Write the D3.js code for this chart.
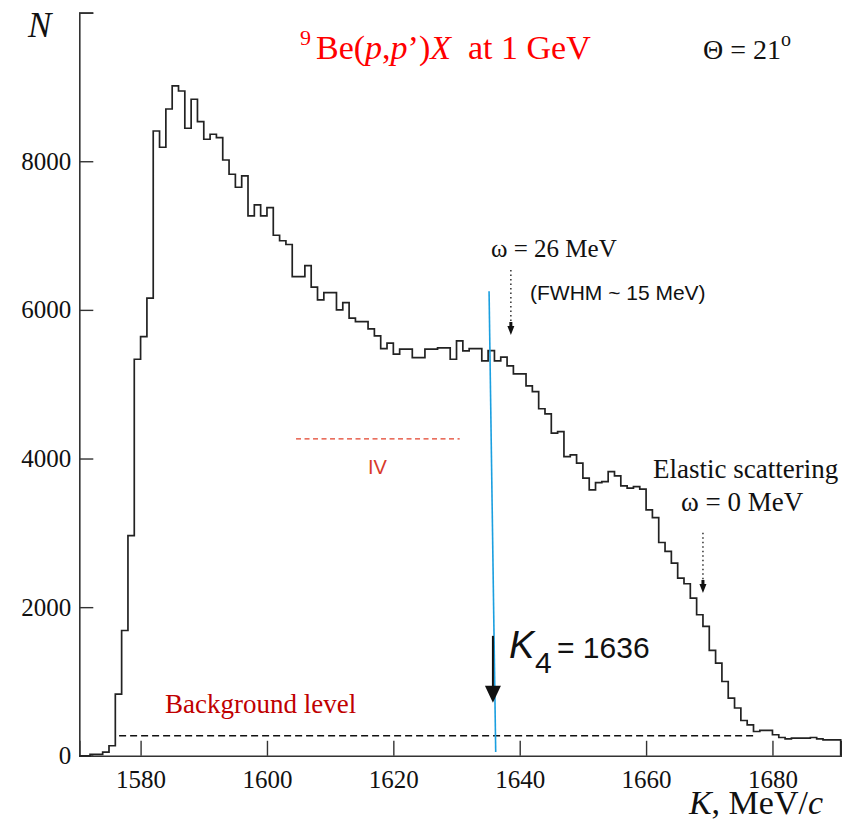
<!DOCTYPE html>
<html>
<head>
<meta charset="utf-8">
<script src="https://cdn.jsdelivr.net/npm/d3@7/dist/d3.min.js"></script>
<style>
  html, body { margin: 0; padding: 0; background: #fff; }
  svg { display: block; }
</style>
</head>
<body>
<svg id="chart" width="842" height="825"></svg>
<script>
// ---------------- DATA ----------------
const binEdges = [1570,1571,1572,1573,1574,1575,1576,1577,1578,1579,
  1580,1581,1582,1583,1584,1585,1586,1587,1588,1589,
  1590,1591,1592,1593,1594,1595,1596,1597,1598,1599,
  1600,1601,1602,1603,1604,1605,1606,1607,1608,1609,
  1610,1611,1612,1613,1614,1615,1616,1617,1618,1619,
  1620,1621,1622,1623,1624,1625,1626,1627,1628,1629,
  1630,1631,1632,1633,1634,1635,1636,1637,1638,1639,
  1640,1641,1642,1643,1644,1645,1646,1647,1648,1649,
  1650,1651,1652,1653,1654,1655,1656,1657,1658,1659,
  1660,1661,1662,1663,1664,1665,1666,1667,1668,1669,
  1670,1671,1672,1673,1674,1675,1676,1677,1678,1679,
  1680,1681,1682,1683,1684,1685,1686,1687,1688,1689,1690];
const counts = [0,0,20,20,50,135,830,1686,2963,5336,
  5640,6157,8407,8188,8703,9013,8945,8444,8834,8532,
  8296,8363,8317,8017,7825,7650,7802,7264,7412,7264,
  7376,7004,6930,6880,6448,6448,6595,6305,6134,6232,
  6232,5999,6098,5888,5842,5842,5744,5650,5479,5552,
  5404,5471,5471,5358,5358,5471,5471,5488,5488,5336,
  5582,5448,5479,5479,5313,5452,5313,5363,5246,5139,
  5139,4977,4900,4670,4600,4341,4363,4026,4049,3937,
  3736,3578,3676,3690,3824,3766,3632,3601,3623,3588,
  3309,3205,2870,2750,2593,2392,2315,2122,1898,1741,
  1418,1248,1000,776,643,475,417,327,341,341,
  283,246,229,238,238,238,246,229,215,215,215];

const xDomain = [1570.3, 1690.8];
const yDomain = [0, 10000];
const xTicksMajor = [1580,1600,1620,1640,1660,1680];
const xTicksMinor = [1575,1585,1590,1595,1605,1610,1615,1625,1630,1635,1645,1650,1655,1665,1670,1675,1685,1690];
const yTicksMajor = [0,2000,4000,6000,8000,10000];
const yTickLabels = ["0","2000","4000","6000","8000",""];
const yTicksMinor = [500,1000,1500,2500,3000,3500,4500,5000,5500,6500,7000,7500,8500,9000,9500];

// annotations (data units)
const k4Line = [[1635.15, 6250],[1636.2, 50]];
const k4Arrow = [1635.76, 1614, 713];     // x, y from, y tip
const bgLevel = [1576.6, 1677.5, 270];    // x1, x2, y
const ivLine = [1604.6, 1630.5, 4264];    // x1, x2, y
const omega26Arrow = [1638.6, 6538, 5663];
const elasticArrow = [1669.0, 3000, 2189];

// ---------------- DRAW ----------------
const svg = d3.select("#chart");
const serif = "'Liberation Serif','Times New Roman',Times,serif";
const sans = "'Liberation Sans',Arial,Helvetica,sans-serif";

const x = d3.scaleLinear().domain(xDomain).range([79.3, 840.7]);
const y = d3.scaleLinear().domain(yDomain).range([755.8, 12.6]);

// axes
const gx = svg.append("g").attr("transform", `translate(0,${y(0)})`);
gx.call(d3.axisBottom(x).tickValues(xTicksMinor).tickSize(-8).tickFormat(""));
gx.call(d3.axisBottom(x).tickValues(xTicksMajor).tickSize(-15).tickPadding(14).tickFormat(d3.format("d")));
gx.selectAll("path.domain").attr("stroke", "#333").attr("stroke-width", 1.6);
gx.selectAll(".tick line").attr("stroke", "#333").attr("stroke-width", 1.4);
gx.selectAll(".tick text").attr("font-family", serif).attr("font-size", 25).attr("fill", "#111");

const gy = svg.append("g").attr("transform", `translate(${x(xDomain[0])},0)`);
gy.call(d3.axisLeft(y).tickValues(yTicksMinor).tickSize(-7).tickFormat(""));
gy.call(d3.axisLeft(y).tickValues(yTicksMajor).tickSize(-14).tickPadding(8)
  .tickFormat((d, i) => yTickLabels[i]));
gy.selectAll("path.domain").attr("stroke", "#333").attr("stroke-width", 1.6);
gy.selectAll(".tick line").attr("stroke", "#333").attr("stroke-width", 1.4);
gy.selectAll(".tick text").attr("font-family", serif).attr("font-size", 25).attr("fill", "#111");

// histogram
const pts = binEdges.map((e, i) => [Math.max(xDomain[0], e), counts[i]]);
pts.push([xDomain[1], counts[counts.length - 1]]);
pts.push([xDomain[1], 0]);
const line = d3.line().x(d => x(d[0])).y(d => y(d[1])).curve(d3.curveStepAfter);
svg.append("path").attr("d", line(pts)).attr("fill", "none")
  .attr("stroke", "#222").attr("stroke-width", 1.7).attr("stroke-linejoin", "miter");

// background level
svg.append("line")
  .attr("x1", x(bgLevel[0])).attr("x2", x(bgLevel[1]))
  .attr("y1", y(bgLevel[2])).attr("y2", y(bgLevel[2]))
  .attr("stroke", "#111").attr("stroke-width", 1.5).attr("stroke-dasharray", "7,4");
svg.append("text").attr("x", 165).attr("y", 713)
  .attr("font-family", serif).attr("font-size", 27).attr("fill", "#c00000")
  .text("Background level");

// IV line
svg.append("line")
  .attr("x1", x(ivLine[0])).attr("x2", x(ivLine[1]))
  .attr("y1", y(ivLine[2])).attr("y2", y(ivLine[2]))
  .attr("stroke", "#e2402a").attr("stroke-width", 1.3).attr("stroke-dasharray", "5,3.5");
svg.append("text").attr("x", 368).attr("y", 474)
  .attr("font-family", sans).attr("font-size", 20).attr("fill", "#d83a2a")
  .text("IV");

// K4 blue line
svg.append("line")
  .attr("x1", x(k4Line[0][0])).attr("y1", y(k4Line[0][1]))
  .attr("x2", x(k4Line[1][0])).attr("y2", y(k4Line[1][1]))
  .attr("stroke", "#1a9fe0").attr("stroke-width", 1.6);

// K4 black arrow
{
  const ax = x(k4Arrow[0]), ay1 = y(k4Arrow[1]), tip = y(k4Arrow[2]);
  svg.append("line").attr("x1", ax).attr("x2", ax).attr("y1", ay1).attr("y2", tip - 14)
    .attr("stroke", "#111").attr("stroke-width", 2);
  svg.append("path")
    .attr("d", `M${ax},${tip} L${ax - 8},${tip - 17} L${ax + 8},${tip - 17} Z`)
    .attr("fill", "#111");
}
{
  const t = svg.append("text").attr("font-family", sans).attr("fill", "#111");
  t.append("tspan").attr("x", 509).attr("y", 658).attr("font-size", 38).attr("font-style", "italic").text("K");
  t.append("tspan").attr("x", 535).attr("y", 673).attr("font-size", 30).text("4");
  t.append("tspan").attr("x", 557).attr("y", 658).attr("font-size", 30).text("= 1636");
}

// dotted arrows
function dottedArrow(a) {
  const ax = x(a[0]), y1 = y(a[1]), tip = y(a[2]);
  svg.append("line").attr("x1", ax).attr("x2", ax).attr("y1", y1).attr("y2", tip - 10)
    .attr("stroke", "#222").attr("stroke-width", 1.4).attr("stroke-dasharray", "1.5,3");
  svg.append("path")
    .attr("d", `M${ax},${tip} L${ax - 3.5},${tip - 9} L${ax - 1.5},${tip - 9} L${ax - 1.5},${tip - 13} L${ax + 1.5},${tip - 13} L${ax + 1.5},${tip - 9} L${ax + 3.5},${tip - 9} Z`)
    .attr("fill", "#111");
}
dottedArrow(omega26Arrow);
dottedArrow(elasticArrow);

// omega = 26 MeV
svg.append("text").attr("x", 491).attr("y", 257)
  .attr("font-family", serif).attr("font-size", 25).attr("fill", "#111")
  .text("\u03c9 = 26 MeV");
svg.append("text").attr("x", 530).attr("y", 300)
  .attr("font-family", sans).attr("font-size", 21).attr("fill", "#111")
  .text("(FWHM ~ 15 MeV)");

// elastic
svg.append("text").attr("x", 653).attr("y", 478)
  .attr("font-family", serif).attr("font-size", 27).attr("fill", "#111")
  .text("Elastic scattering");
svg.append("text").attr("x", 681).attr("y", 511)
  .attr("font-family", serif).attr("font-size", 27).attr("fill", "#111")
  .text("\u03c9 = 0 MeV");

// title
{
  const t = svg.append("text").attr("font-family", serif).attr("fill", "#ff0000").attr("font-size", 34);
  t.append("tspan").attr("x", 300).attr("y", 45).attr("font-size", 22).text("9");
  t.append("tspan").attr("x", 316).attr("y", 59).text("Be(");
  t.append("tspan").attr("font-style", "italic").text("p");
  t.append("tspan").text(",");
  t.append("tspan").attr("font-style", "italic").text("p");
  t.append("tspan").text("\u2019)");
  t.append("tspan").attr("font-style", "italic").text("X");
  t.append("tspan").text("\u00a0 at 1 GeV");
}
{
  const t = svg.append("text").attr("font-family", serif).attr("fill", "#111").attr("font-size", 28);
  t.append("tspan").attr("x", 703).attr("y", 59).text("\u0398 = 21");
  t.append("tspan").attr("dy", -13).attr("font-size", 20).text("o");
}

// axis labels
svg.append("text").attr("x", 28).attr("y", 37)
  .attr("font-family", serif).attr("font-size", 35).attr("font-style", "italic").attr("fill", "#111")
  .text("N");
{
  const t = svg.append("text").attr("font-family", serif).attr("font-size", 34).attr("fill", "#111")
    .attr("text-anchor", "end").attr("x", 823).attr("y", 814);
  t.append("tspan").attr("font-style", "italic").text("K");
  t.append("tspan").text(", MeV/");
  t.append("tspan").attr("font-style", "italic").text("c");
}
</script>
</body>
</html>
